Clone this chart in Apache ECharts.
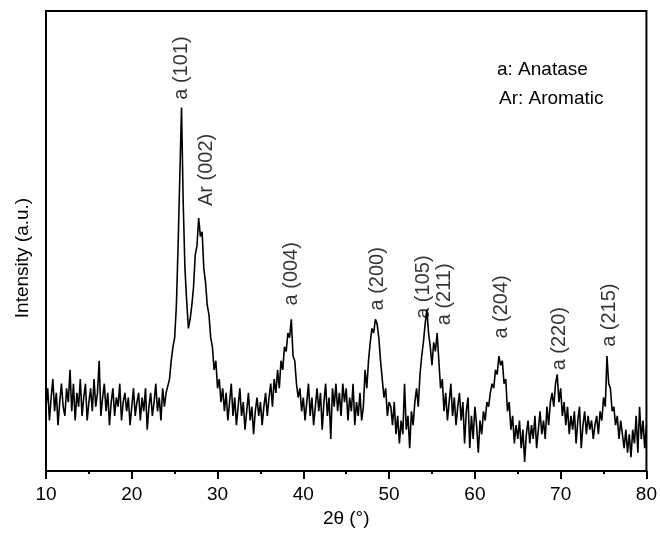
<!DOCTYPE html>
<html>
<head>
<meta charset="utf-8">
<script src="https://cdn.jsdelivr.net/npm/echarts@6/dist/echarts.min.js"></script>
<style>
  html, body { margin: 0; padding: 0; background: #fff; }
  #chart { width: 660px; height: 533px; }
</style>
</head>
<body>
<div id="chart"></div>
<script>
// XRD pattern, 2θ from 10° to 80° read every 0.2°
const angleStart = 10
const angleStep = 0.2

// intensity (a.u., 0-100 of the plot height), region by region
const range10to24 = [
  14, 18, 11, 16, 20, 13, 17, 10, 15, 19,
  14, 12, 18, 15, 22, 13, 19, 11, 17, 14,
  20, 12, 16, 19, 11, 15, 18, 13, 20, 14,
  17, 24, 12, 16, 19, 13, 17, 10, 15, 18,
  12, 16, 14, 19, 11, 15, 17, 13, 16, 10,
  14, 18, 12, 15, 17, 11, 16, 13, 18, 9,
  14, 17, 12, 15, 19, 13, 16, 11, 18, 14,
  17
]
const range24to31 = [
  17, 20, 24, 27, 29, 36, 49, 64, 79, 58,
  44, 37, 31, 33, 36, 40, 47, 49, 55, 51,
  52, 44, 41, 36, 34, 29, 27, 22, 24, 18,
  20, 15, 18
]
const range31to36 = [
  13, 17, 11, 15, 19, 12, 16, 10, 14, 18,
  12, 15, 9, 13, 17, 11, 14, 8, 13, 16,
  12, 15, 10, 14, 17, 12, 16
]
const range36to40 = [
  19, 14, 20, 17, 22, 18, 24, 22, 27, 26,
  30, 29, 33, 25, 24, 19, 16, 18, 13, 16
]
const range40to47 = [
  11, 15, 19, 12, 16, 10, 14, 18, 13, 17,
  9, 15, 19, 12, 16, 7, 18, 14, 19, 13,
  17, 12, 19, 15, 18, 11, 16, 13, 19, 10,
  15, 12, 17, 11, 14
]
const range47to50 = [
  22, 18, 24, 28, 31, 30, 33, 32, 29, 24,
  20, 16, 18, 12, 15
]
const range50to53 = [
  14, 10, 15, 8, 12, 6, 11, 8, 19, 9,
  12, 5, 13, 10, 15
]
const range53to56 = [
  18, 14, 21, 25, 28, 32, 35, 30, 27, 23,
  28, 26, 30, 24, 18, 20
]
const range56to61 = [
  13, 17, 11, 15, 19, 12, 16, 10, 14, 17,
  11, 15, 6, 13, 16, 5, 12, 7, 14, 10,
  4, 11, 8, 13, 11, 15
]
const range61to64 = [
  14, 17, 19, 18, 22, 21, 25, 23, 24, 19,
  20, 13, 15
]
const range64to69 = [
  9, 12, 6, 10, 7, 11, 5, 9, 2, 8,
  11, 6, 10, 7, 12, 5, 9, 13, 8, 11,
  7, 14, 10, 15
]
const range69to70 = [17, 14, 19, 21, 15, 18, 12, 15]
const range70to75 = [
  10, 14, 8, 12, 9, 13, 6, 11, 14, 5,
  10, 13, 8, 12, 9, 11, 7, 10, 12, 8,
  13, 11
]
const range75to76 = [16, 14, 25, 19, 18, 13]
const range76to80 = [
  14, 10, 12, 7, 11, 8, 5, 9, 4, 8,
  3, 9, 6, 12, 4, 14, 7, 11, 5, 10
]

// peak labels: text, 2θ and height of the text's foot
const peakNames = ['a (101)', 'Ar (002)', 'a (004)', 'a (200)', 'a (105)', 'a (211)', 'a (204)', 'a (220)', 'a (215)']
const peakAngles = [25.84, 28.72, 38.65, 48.59, 53.95, 56.47, 63.07, 69.87, 75.69]
const peakFeet = [80.7, 57.6, 36, 34.9, 33.1, 31.7, 28.8, 21.9, 27]

const xTicks = [10, 20, 30, 40, 50, 60, 70, 80]
const legendLines = ['a: Anatase', 'Ar: Aromatic']

const intensity = [].concat(range10to24, range24to31, range31to36, range36to40, range40to47,
  range47to50, range50to53, range53to56, range56to61, range61to64, range64to69,
  range69to70, range70to75, range75to76, range76to80)

const pattern = intensity.map((v, i) => [+(angleStart + i * angleStep).toFixed(1), v])
const labelPoints = peakNames.map((n, i) => ({name: n, value: [peakAngles[i], peakFeet[i]]}))

const font = '"Liberation Sans", Arial, Helvetica, sans-serif'

const chart = echarts.init(document.getElementById('chart'))
chart.setOption({
  animation: false,
  textStyle: {fontFamily: font},
  grid: {
    left: 46, right: 13, top: 11, bottom: 60,
    show: true, borderColor: '#000', borderWidth: 2
  },
  xAxis: {
    type: 'value',
    min: xTicks[0],
    max: xTicks[xTicks.length - 1],
    interval: 10,
    name: '2θ (°)',
    nameLocation: 'middle',
    nameGap: 35,
    nameTextStyle: {fontSize: 19, color: '#000', fontFamily: font},
    axisLine: {lineStyle: {color: '#000', width: 2}},
    axisTick: {length: 8, lineStyle: {color: '#000', width: 2}},
    minorTick: {show: true, splitNumber: 2, length: 3, lineStyle: {color: '#000', width: 2}},
    axisLabel: {fontSize: 19, color: '#000', margin: 14, fontFamily: font},
    splitLine: {show: false}
  },
  yAxis: {
    type: 'value',
    min: 0,
    max: 100,
    axisLine: {show: true, lineStyle: {color: '#000', width: 2}},
    axisTick: {show: false},
    axisLabel: {show: false},
    splitLine: {show: false}
  },
  graphic: [
    {
      type: 'text', x: 23, y: 258, rotation: Math.PI / 2,
      style: {text: 'Intensity (a.u.)', fontSize: 19, fill: '#000', fontFamily: font, align: 'center', verticalAlign: 'middle'}
    },
    {
      type: 'text', x: 497, y: 70,
      style: {text: legendLines[0], fontSize: 19, fill: '#000', fontFamily: font, verticalAlign: 'middle'}
    },
    {
      type: 'text', x: 499, y: 99,
      style: {text: legendLines[1], fontSize: 19, fill: '#000', fontFamily: font, verticalAlign: 'middle'}
    }
  ],
  series: [
    {
      type: 'line',
      data: pattern,
      showSymbol: false,
      lineStyle: {color: '#000', width: 1.6},
      silent: true
    },
    {
      type: 'scatter',
      data: labelPoints,
      symbolSize: 0,
      silent: true,
      label: {
        show: true,
        formatter: '{b}',
        position: 'inside',
        rotate: 90,
        align: 'left',
        verticalAlign: 'middle',
        fontSize: 20,
        color: '#000',
        fontFamily: font
      }
    }
  ]
})
</script>
</body>
</html>
